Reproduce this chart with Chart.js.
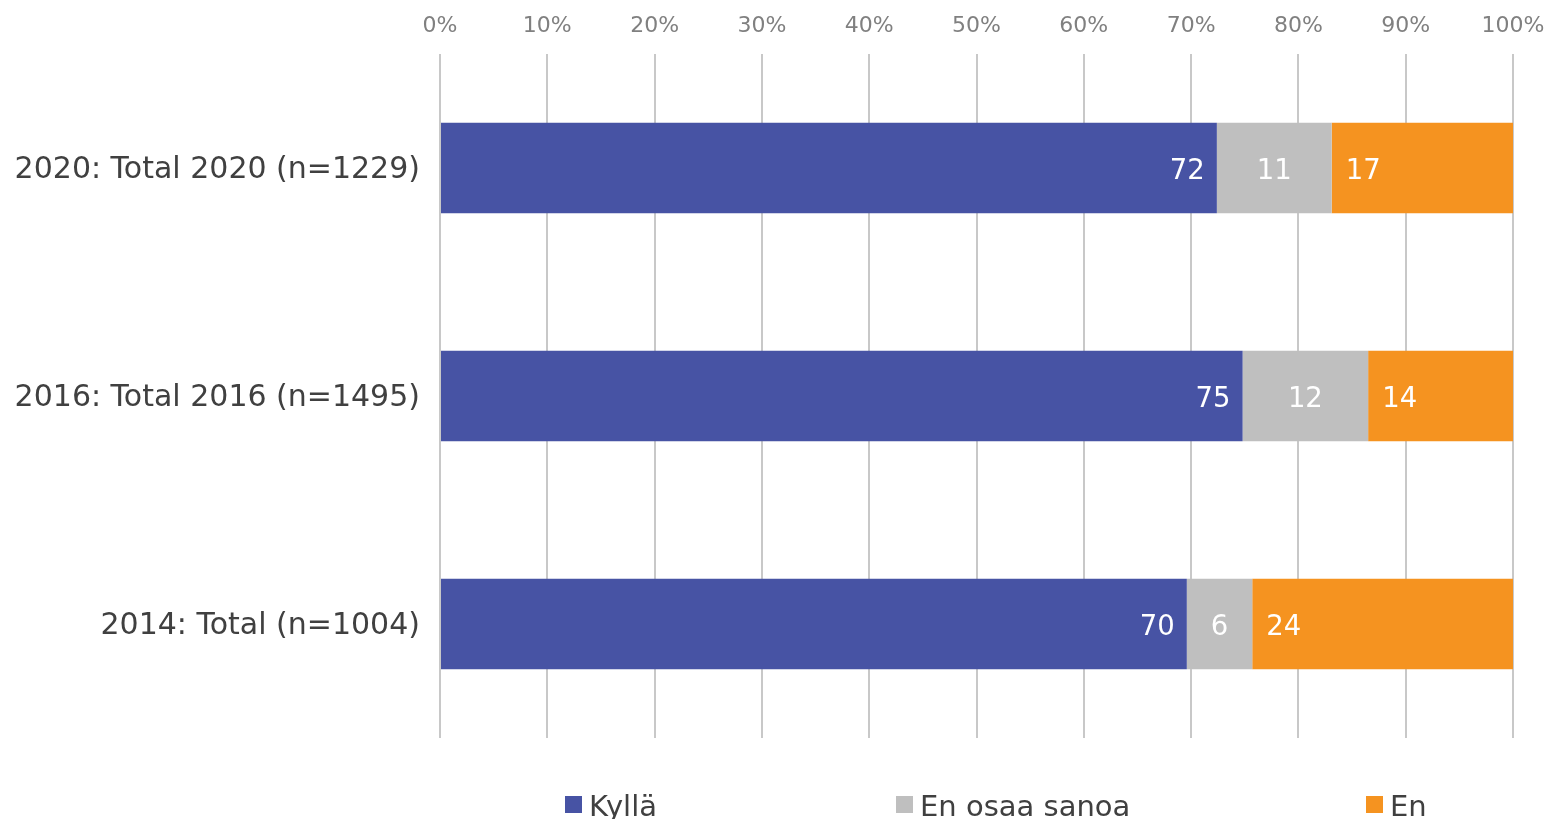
<!DOCTYPE html>
<html>
<head>
<meta charset="utf-8">
<script src="https://cdn.jsdelivr.net/npm/chart.js@4/dist/chart.umd.min.js"></script>
<style>
  html, body { margin: 0; padding: 0; background: #ffffff; }
  #wrap { width: 1553px; height: 819px; position: relative; overflow: hidden; }
</style>
</head>
<body>
<div id="wrap"><canvas id="c" width="1553" height="819"></canvas></div>
<script>
const categories = ['2020: Total 2020 (n=1229)', '2016: Total 2016 (n=1495)', '2014: Total (n=1004)'];
const seriesNames = ['Kyllä', 'En osaa sanoa', 'En'];
const kylla = [72.4, 74.8, 69.6];
const enOsaaSanoa = [10.7, 11.7, 6.1];
const en = [16.9, 13.5, 24.3];
const tickValues = [0, 10, 20, 30, 40, 50, 60, 70, 80, 90, 100];

const colors = ['#4753a4', '#bfbfbf', '#f59320'];
const FONT = "'DejaVu Sans', Verdana, sans-serif";

const barLabels = {
  id: 'barLabels',
  afterDatasetsDraw(chart) {
    const ctx = chart.ctx;
    ctx.save();
    ctx.font = '27.5px ' + FONT;
    ctx.fillStyle = '#ffffff';
    ctx.textBaseline = 'middle';
    chart.data.datasets.forEach((ds, di) => {
      const meta = chart.getDatasetMeta(di);
      meta.data.forEach((el, i) => {
        const p = el.getProps(['x', 'y', 'base'], true);
        const txt = String(Math.round(ds.data[i]));
        let x;
        if (di === 0) { ctx.textAlign = 'right'; x = p.x - 12; }
        else if (di === 1) { ctx.textAlign = 'center'; x = (p.x + p.base) / 2; }
        else { ctx.textAlign = 'left'; x = p.base + 14; }
        ctx.fillText(txt, x, p.y + 4);
      });
    });
    ctx.restore();
  }
};

const customLegend = {
  id: 'customLegend',
  afterDraw(chart, args, opts) {
    const ctx = chart.ctx;
    ctx.save();
    ctx.font = '29px ' + FONT;
    ctx.textBaseline = 'alphabetic';
    ctx.textAlign = 'left';
    chart.data.datasets.forEach((ds, i) => {
      const bx = opts.xs[i];
      ctx.fillStyle = ds.backgroundColor;
      ctx.fillRect(bx, opts.boxTop, 17, 17);
      ctx.fillStyle = '#404040';
      ctx.fillText(ds.label, bx + 24, opts.baseline);
    });
    ctx.restore();
  }
};

new Chart(document.getElementById('c'), {
  type: 'bar',
  data: {
    labels: categories,
    datasets: [
      { label: seriesNames[0], data: kylla, backgroundColor: colors[0] },
      { label: seriesNames[1], data: enOsaaSanoa, backgroundColor: colors[1] },
      { label: seriesNames[2], data: en, backgroundColor: colors[2] }
    ]
  },
  options: {
    indexAxis: 'y',
    responsive: false,
    animation: false,
    devicePixelRatio: 1,
    layout: { padding: { left: 0, top: 0, right: 40, bottom: 81 } },
    datasets: {
      bar: { categoryPercentage: 1.0, barPercentage: 0.396, borderWidth: 0 }
    },
    scales: {
      x: {
        position: 'top',
        stacked: true,
        min: 0,
        max: 100,
        afterBuildTicks(scale) { scale.ticks = tickValues.map(v => ({ value: v })); },
        afterFit(scale) { scale.height = 54; scale.paddingLeft = 0; scale.paddingRight = 0; },
        ticks: {
          callback: v => v + '%',
          color: '#808080',
          font: { family: FONT, size: 22 },
          padding: 15,
          maxRotation: 0,
          autoSkip: false
        },
        grid: { color: '#c8c8c8', lineWidth: 2, drawTicks: false },
        border: { display: false }
      },
      y: {
        stacked: true,
        afterFit(scale) { scale.width = 440; scale.paddingTop = 0; scale.paddingBottom = 0; },
        ticks: {
          color: '#404040',
          font: { family: FONT, size: 30 },
          padding: 20,
          labelOffset: 2
        },
        grid: { display: false, drawTicks: false },
        border: { display: false }
      }
    },
    plugins: {
      legend: { display: false },
      tooltip: { enabled: false },
      customLegend: { xs: [565, 896, 1366], boxTop: 796, baseline: 816 }
    }
  },
  plugins: [barLabels, customLegend]
});
</script>
</body>
</html>
